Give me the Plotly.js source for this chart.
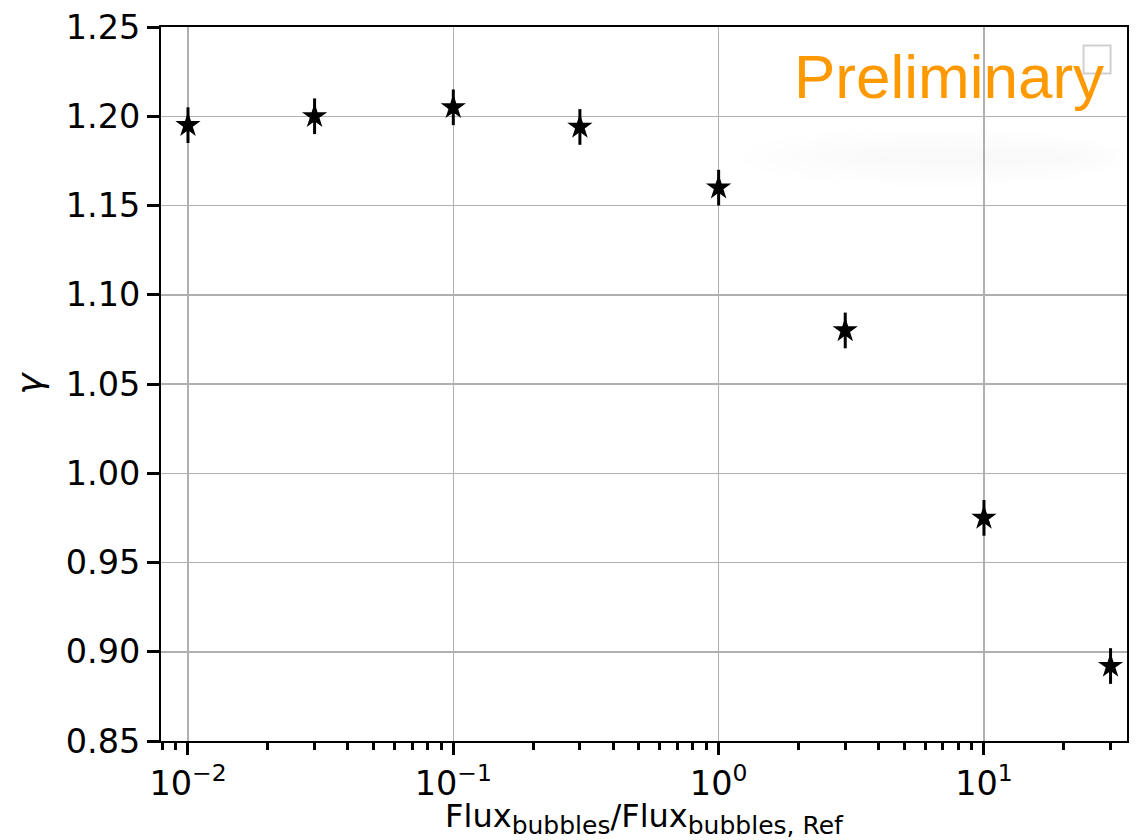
<!DOCTYPE html>
<html>
<head>
<meta charset="utf-8">
<script src="https://cdn.plot.ly/plotly-3.0.1.min.js"></script>
<style>html,body{margin:0;padding:0;background:#fff;}#chart{width:1135px;height:840px;}</style>
</head>
<body>
<div id="chart"></div>
<script>
// Data
const fluxRatio = [0.01, 0.03, 0.1, 0.3, 1, 3, 10, 30];
const gammaValues = [1.195, 1.200, 1.205, 1.194, 1.160, 1.080, 0.975, 0.892];
const gammaErrors = [0.010, 0.010, 0.010, 0.010, 0.010, 0.010, 0.010, 0.010];
const xTickVals = [0.01, 0.1, 1, 10];
const xTickText = ['10<sup>\u22122</sup>', '10<sup>\u22121</sup>', '10<sup>0</sup>', '10<sup>1</sup>'];
const yTickVals = [0.85, 0.90, 0.95, 1.00, 1.05, 1.10, 1.15, 1.20, 1.25];

const trace = {
  x: fluxRatio,
  y: gammaValues,
  type: 'scatter',
  mode: 'markers',
  marker: {symbol: 'star', size: 19, color: '#000', line: {width: 0}},
  error_y: {type: 'data', array: gammaErrors, visible: true, color: '#000', thickness: 3, width: 0},
  showlegend: false
};

const font = {family: 'DejaVu Sans', size: 33.5, color: '#000'};

// soft shadow built from layered translucent ellipses
const shadowShapes = [];
for (let i = 0; i < 6; i++) {
  const shrinkX = i * 0.025, shrinkY = i * 0.007;
  shadowShapes.push({
    type: 'circle', xref: 'paper', yref: 'paper',
    x0: 0.60 + shrinkX, x1: 1.0 - shrinkX * 0.4,
    y0: 0.775 + shrinkY, y1: 0.86 - shrinkY,
    line: {width: 0}, fillcolor: 'rgba(0,0,0,0.0045)', layer: 'below'
  });
}

const layout = {
  width: 1135, height: 840,
  margin: {l: 161, r: 8, t: 27, b: 99, pad: 0},
  paper_bgcolor: '#fff', plot_bgcolor: '#fff',
  font: font,
  showlegend: false,
  xaxis: {
    type: 'log',
    range: [Math.log10(0.01) - 0.1017, Math.log10(30) + 0.062],
    tickvals: xTickVals, ticktext: xTickText,
    ticks: 'outside', ticklen: 12, tickwidth: 3, tickcolor: '#000',
    showgrid: true, gridcolor: '#b0b0b0', gridwidth: 1.5,
    showline: true, linecolor: '#000', linewidth: 2, mirror: true,
    zeroline: false,
    tickfont: font,
    minor: {dtick: 'D1', ticks: 'outside', ticklen: 7, tickwidth: 3, tickcolor: '#000', showgrid: false},
    title: {
      text: 'Flux<sub><span style="font-size:25px">bubbles</span></sub>/Flux<sub><span style="font-size:25px">bubbles, Ref</span></sub>',
      font: {family: 'DejaVu Sans', size: 32, color: '#000'}, standoff: 11
    }
  },
  yaxis: {
    range: [0.85, 1.25],
    tickvals: yTickVals, tickformat: '.2f',
    ticks: 'outside', ticklen: 12, tickwidth: 3, tickcolor: '#000',
    showgrid: true, gridcolor: '#b0b0b0', gridwidth: 1.5,
    showline: true, linecolor: '#000', linewidth: 2, mirror: true,
    zeroline: false,
    tickfont: font,
    title: {text: '<i>\u03b3</i>', font: {family: 'DejaVu Sans', size: 36, color: '#000'}, standoff: 12}
  },
  annotations: [{
    xref: 'paper', yref: 'paper', x: 0.978, y: 0.982,
    xanchor: 'right', yanchor: 'top',
    text: 'Preliminary', showarrow: false,
    font: {family: 'Liberation Sans', size: 62, color: '#ff9900'}
  }],
  shapes: shadowShapes.concat([
    {type: 'rect', xref: 'paper', yref: 'paper',
     x0: 0.955, x1: 0.983, y0: 0.935, y1: 0.974,
     line: {color: '#d0d0d0', width: 2}, fillcolor: 'rgba(255,255,255,0.6)'}
  ])
};

Plotly.newPlot('chart', [trace], layout, {displayModeBar: false, staticPlot: true});
</script>
</body>
</html>
